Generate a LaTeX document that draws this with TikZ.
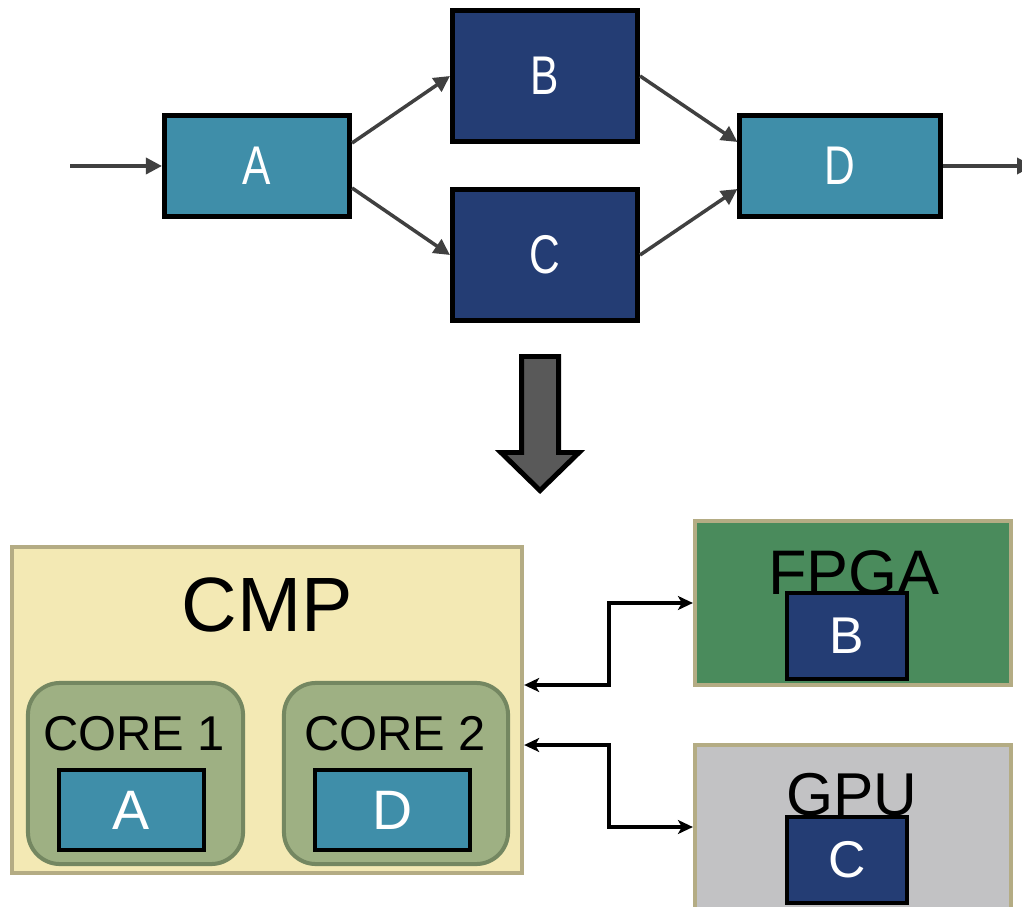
\documentclass[tikz,border=0pt]{standalone}
\usepackage{fontspec}
\setmainfont{Liberation Sans}
\newfontfamily\narrowsf[FakeStretch=0.78]{Liberation Sans}
\usetikzlibrary{arrows.meta,calc}
\definecolor{tealA}{HTML}{3F8EA9}
\definecolor{navyB}{HTML}{243D74}
\definecolor{arrowgray}{HTML}{404040}
\definecolor{bigarrow}{HTML}{595959}
\definecolor{cmpfill}{HTML}{F3E9B4}
\definecolor{tanB}{HTML}{B4AC84}
\definecolor{corefill}{HTML}{9EB083}
\definecolor{coreline}{HTML}{748761}
\definecolor{fpgafill}{HTML}{4A8B5C}
\definecolor{gpufill}{HTML}{C2C2C4}
\begin{document}
\begin{tikzpicture}[x=0.01cm,y=-0.01cm,
  task/.style={draw=black, line width=1.42pt, text=white, inner sep=0pt,
    font=\narrowsf\fontsize{15.5}{17}\selectfont},
  tealbox/.style={task, fill=tealA},
  navybox/.style={task, fill=navyB},
  flow/.style={draw=arrowgray, line width=1pt, -{Triangle[length=1.6mm,width=1.6mm]}},
  chip/.style={draw=tanB, line width=1.14pt, inner sep=0pt},
  corebox/.style={draw=coreline, fill=corefill, line width=1.14pt, rounded corners=0.32cm, inner sep=0pt},
  smallbox/.style={draw=black, line width=1.14pt, text=white, inner sep=0pt},
  link/.style={draw=black, line width=1pt,
    {Stealth[length=1.5mm,width=1.4mm,inset=0.4mm]}-{Stealth[length=1.5mm,width=1.4mm,inset=0.4mm]}},
  lbl/.style={anchor=base, inner sep=0pt, text=black}
]
\useasboundingbox (0,0) rectangle (1022,907);
\clip (0,0) rectangle (1022,907);

% ---------- top task graph ----------
\node[tealbox, minimum width=1.85cm, minimum height=1.0cm] (A) at (257,166) {A};
\node[navybox, minimum width=1.85cm, minimum height=1.31cm] (B) at (545,76) {B};
\node[navybox, minimum width=1.85cm, minimum height=1.31cm] (C) at (545,255) {C};
\node[tealbox, minimum width=2.0cm, minimum height=1.0cm] (D) at (840,166) {D};

\coordinate (in) at (70,166);
\coordinate (out) at (1033,166);
\draw[flow] (in) -- (A.west);
\draw[flow] ($(A.east)+(0,-23)$) -- (B.west);
\draw[flow] ($(A.east)+(0,22)$) -- (C.west);
\draw[flow] (B.east) -- ($(D.west)+(0,-24)$);
\draw[flow] (C.east) -- ($(D.west)+(0,23)$);
\draw[flow] (D.east) -- (out);

% ---------- big down arrow ----------
\draw[fill=bigarrow, line width=1.42pt, line join=miter]
  (521.5,356.5) -- (558.5,356.5) -- (558.5,452.5) -- (579,452.5)
  -- (540,490.5) -- (501,452.5) -- (521.5,452.5) -- cycle;

% ---------- CMP ----------
\node[chip, fill=cmpfill, minimum width=5.10cm, minimum height=3.26cm] (CMP) at (267,710) {};
\node[lbl, font=\fontsize{21.9}{24}\selectfont] (cmplbl) at (267,631) {CMP};
\node[corebox, minimum width=2.15cm, minimum height=1.81cm] (core1) at (135.5,773.5) {};
\node[corebox, minimum width=2.24cm, minimum height=1.81cm] (core2) at (396,773.5) {};
\node[lbl, font=\fontsize{13.9}{16}\selectfont] (core1lbl) at (134,750) {CORE 1};
\node[lbl, font=\fontsize{13.9}{16}\selectfont] (core2lbl) at (395,750) {CORE 2};
\node[smallbox, fill=tealA, minimum width=1.45cm, minimum height=0.80cm,
  font=\fontsize{15.8}{17}\selectfont] (sA) at (131.5,810) {A};
\node[smallbox, fill=tealA, minimum width=1.55cm, minimum height=0.80cm,
  font=\fontsize{15.8}{17}\selectfont] (sD) at (392.5,810) {D};

% ---------- FPGA ----------
\node[chip, fill=fpgafill, minimum width=3.16cm, minimum height=1.64cm] (FPGA) at (853,603) {};
\node[lbl, font=\fontsize{17.9}{20}\selectfont] (fpgalbl) at (854,594) {FPGA};
\node[smallbox, fill=navyB, minimum width=1.20cm, minimum height=0.86cm,
  font=\fontsize{14.7}{16}\selectfont] (sB) at (847,636) {B};

% ---------- GPU ----------
\node[chip, fill=gpufill, minimum width=3.16cm, minimum height=1.64cm] (GPU) at (853,827) {};
\node[lbl, font=\fontsize{17.2}{20}\selectfont] (gpulbl) at (852,815) {GPU};
\node[smallbox, fill=navyB, minimum width=1.20cm, minimum height=0.86cm,
  font=\fontsize{14.7}{16}\selectfont] (sC) at (847,860) {C};

% ---------- links ----------
\draw[link] ($(CMP.east)+(0,-25)$) -- ++(85,0) |- (FPGA.west);
\draw[link] ($(CMP.east)+(0,35)$) -- ++(85,0) |- (GPU.west);
\end{tikzpicture}
\end{document}
